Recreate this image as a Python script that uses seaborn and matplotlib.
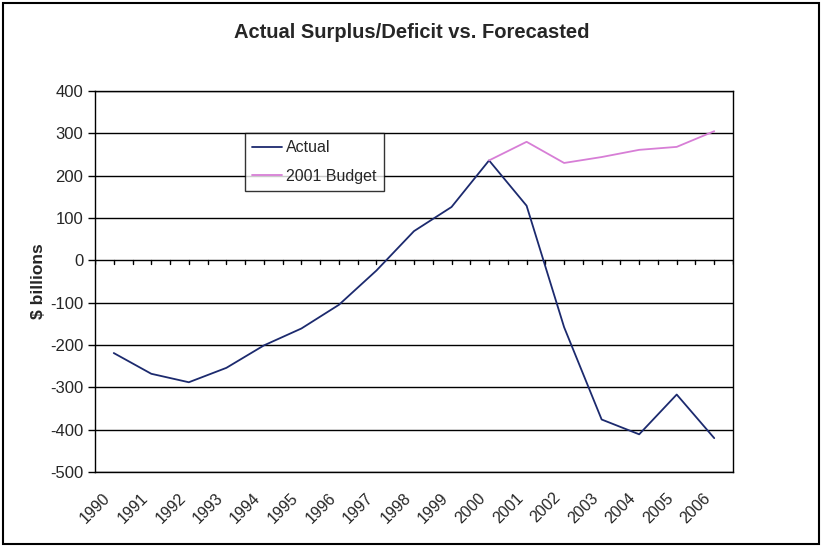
import numpy as np
import pandas as pd
import matplotlib
matplotlib.use("Agg")
import matplotlib.pyplot as plt
import matplotlib.transforms as mtrans
import seaborn as sns
from matplotlib.patches import Rectangle

years = [str(y) for y in range(1990, 2007)]
actual = [-219, -268, -288, -254, -201, -161, -105, -24, 69, 126, 236, 129, -158, -376, -411, -317, -420]
budget_years = ["2000", "2001", "2002", "2003", "2004", "2005", "2006"]
budget = [236, 280, 230, 244, 261, 268, 305]

sns.set_style("white")
plt.rcParams["font.family"] = ["Liberation Sans", "DejaVu Sans"]
plt.rcParams["axes.unicode_minus"] = False

# tabela longa para o seaborn
pos = {y: i for i, y in enumerate(years)}
df = pd.concat([
    pd.DataFrame({"pos": [pos[y] for y in years], "valor": actual, "serie": "Actual"}),
    pd.DataFrame({"pos": [pos[y] for y in budget_years], "valor": budget, "serie": "2001 Budget"}),
])

fig = plt.figure(figsize=(8.23, 5.47), dpi=100)
ax = fig.add_axes([95 / 823, 1 - 472 / 547, 638 / 823, 381 / 547])

sns.lineplot(data=df, x="pos", y="valor", hue="serie",
             palette={"Actual": "#1C2A6E", "2001 Budget": "#D77ED6"},
             linewidth=1.3, ax=ax, zorder=3)

ax.set_xlim(-0.5, len(years) - 0.5)
ax.set_ylim(-500, 400)
ax.set_yticks(range(-500, 401, 100))
ax.tick_params(axis="y", direction="out", length=5, width=1, labelsize=12, color="black", left=True)
ax.grid(axis="y", color="black", linewidth=1)
ax.set_axisbelow(True)

# rotulos de categoria embaixo, sem marcas
ax.set_xticks(range(len(years)))
ax.set_xticklabels(years, rotation=45, ha="right", rotation_mode="anchor", fontsize=11.5)
ax.tick_params(axis="x", length=0, pad=13)
desloc = mtrans.ScaledTranslation(-11 / 100, 0, fig.dpi_scale_trans)
for lab in ax.get_xticklabels():
    lab.set_transform(lab.get_transform() + desloc)

# marcas no eixo zero
for t in np.arange(-0.5, len(years), 0.5):
    ax.plot([t, t], [0, -9], color="black", linewidth=1, zorder=2)

for s in ax.spines.values():
    s.set_visible(True)
    s.set_color("black")
    s.set_linewidth(1)

ax.set_xlabel("")
ax.set_ylabel("$ billions", fontsize=12.5, fontweight="bold", labelpad=3)

fig.text(0.5, 1 - 32 / 547, "Actual Surplus/Deficit vs. Forecasted",
         ha="center", va="center", fontsize=14.5, fontweight="bold")

leg = ax.legend(title=None, loc="upper left", bbox_to_anchor=(0.235, 0.89),
                borderaxespad=0, fontsize=11.5, frameon=True, fancybox=False,
                handlelength=1.9, handletextpad=0.25, borderpad=0.45, labelspacing=0.85)
leg.get_frame().set_edgecolor("black")
leg.get_frame().set_linewidth(1)

# borda externa do grafico
fig.patches.append(Rectangle((3 / 823, 3 / 547), 816 / 823, 541 / 547,
                             transform=fig.transFigure, fill=False,
                             edgecolor="black", linewidth=1.5))

fig.savefig("out.png", dpi=100)
